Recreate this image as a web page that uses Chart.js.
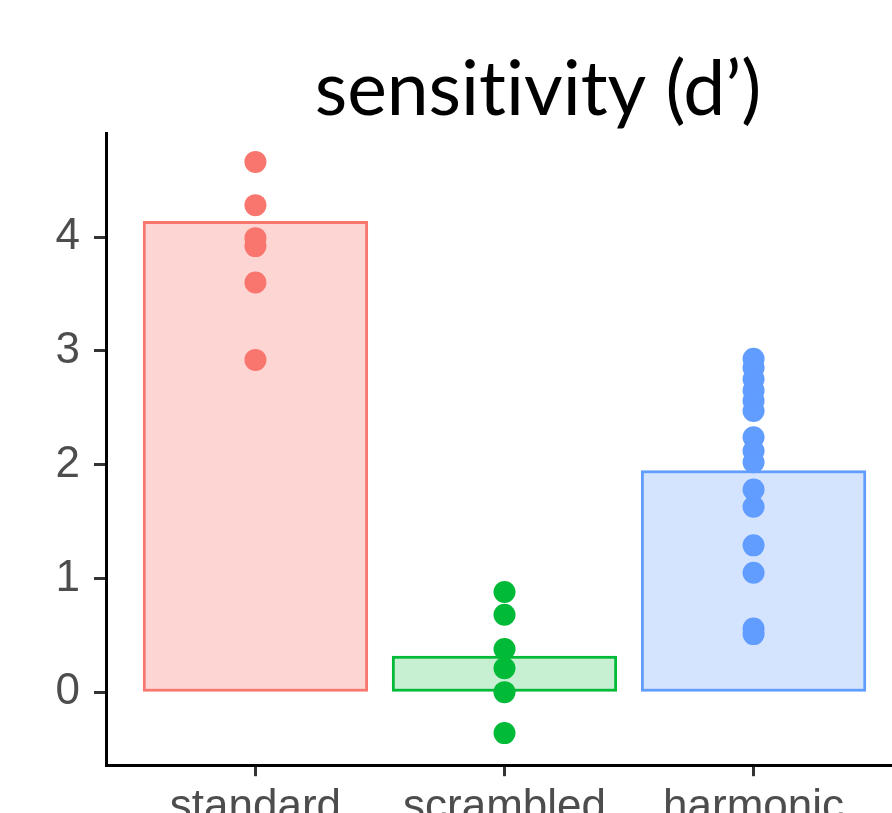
<!DOCTYPE html>
<html>
<head>
<meta charset="utf-8">
<script src="https://cdn.jsdelivr.net/npm/chart.js@4/dist/chart.umd.min.js"></script>
<style>
  html, body { margin: 0; padding: 0; background: #ffffff; overflow: hidden; }
  #wrap { width: 892px; height: 813px; overflow: hidden; position: relative; }
  canvas { display: block; position: absolute; left: 0; top: 0; width: 914px; height: 839px; }
</style>
</head>
<body>
<div id="wrap"><canvas id="c" width="914" height="839"></canvas></div>
<script>
// Conditions along the x axis
const categories = ['standard', 'scrambled', 'harmonic'];
// Group means (bar heights)
const barMeans = [4.14, 0.32, 1.95];
// Individual participant d' values per condition
const standardVals = [4.66, 4.28, 3.99, 3.92, 3.60, 2.92];
const scrambledVals = [0.88, 0.68, 0.38, 0.21, 0.00, -0.36];
const harmonicVals = [2.93, 2.85, 2.75, 2.65, 2.56, 2.47, 2.24, 2.12, 2.02, 1.78, 1.63, 1.29, 1.05, 0.56, 0.51];
// Y axis tick values
const yTicks = [0, 1, 2, 3, 4];

const lineColors = ['#F8766D', '#00BA38', '#619CFF'];
const fillColors = ['rgba(248,118,109,0.30)', 'rgba(0,186,56,0.22)', 'rgba(97,156,255,0.27)'];

const groups = [standardVals, scrambledVals, harmonicVals];
const pointSets = groups.map((vals, i) => ({
  type: 'scatter',
  label: categories[i],
  data: vals.map(v => ({ x: i + 1, y: v })),
  backgroundColor: lineColors[i],
  borderColor: lineColors[i],
  borderWidth: 0,
  pointRadius: 11,
  order: 0
}));

const barSet = {
  type: 'bar',
  label: 'mean',
  data: barMeans.map((v, i) => ({ x: i + 1, y: v })),
  backgroundColor: fillColors,
  borderColor: lineColors,
  borderWidth: 3,
  borderSkipped: false,
  barPercentage: 0.905,
  categoryPercentage: 1,
  order: 1
};

// Panel heading; the zero-width non-joiner keeps "ti" from forming a ligature
const titlePlugin = {
  id: 'panelTitle',
  afterDraw(chart) {
    const ctx = chart.ctx;
    ctx.save();
    ctx.font = '75px Lato';
    ctx.fillStyle = '#000000';
    ctx.textAlign = 'center';
    ctx.textBaseline = 'alphabetic';
    ctx.fillText('sensit\u200Civit\u200Cy (d\u2019)', 538, 115);
    ctx.restore();
  }
};

new Chart(document.getElementById('c'), {
  data: { datasets: [...pointSets, barSet] },
  options: {
    responsive: false,
    animation: false,
    layout: { padding: { top: 133, right: 4, left: 0, bottom: 0 } },
    plugins: { legend: { display: false }, tooltip: { enabled: false } },
    scales: {
      x: {
        type: 'linear',
        min: 0.4,
        max: 3.6,
        offset: false,
        afterBuildTicks: s => { s.ticks = categories.map((_, i) => ({ value: i + 1 })); },
        ticks: {
          autoSkip: false,
          maxRotation: 0,
          padding: 5,
          color: '#4d4d4d',
          font: { family: 'Liberation Sans, Arial, sans-serif', size: 44 },
          callback: v => categories[Math.round(v) - 1]
        },
        grid: { offset: false, drawOnChartArea: false, tickLength: 11, tickColor: '#333333', tickWidth: 3 },
        border: { display: true, color: '#000000', width: 3 }
      },
      y: {
        type: 'linear',
        min: -0.642,
        max: 4.914,
        afterBuildTicks: s => { s.ticks = yTicks.map(v => ({ value: v })); },
        afterFit: s => { s.width = 106; },
        ticks: {
          padding: 14,
          color: '#4d4d4d',
          font: { family: 'Liberation Sans, Arial, sans-serif', size: 44 },
          callback: v => String(v)
        },
        grid: { drawOnChartArea: false, tickLength: 12, tickColor: '#333333', tickWidth: 3 },
        border: { display: true, color: '#000000', width: 3 }
      }
    }
  },
  plugins: [titlePlugin]
});
</script>
</body>
</html>
